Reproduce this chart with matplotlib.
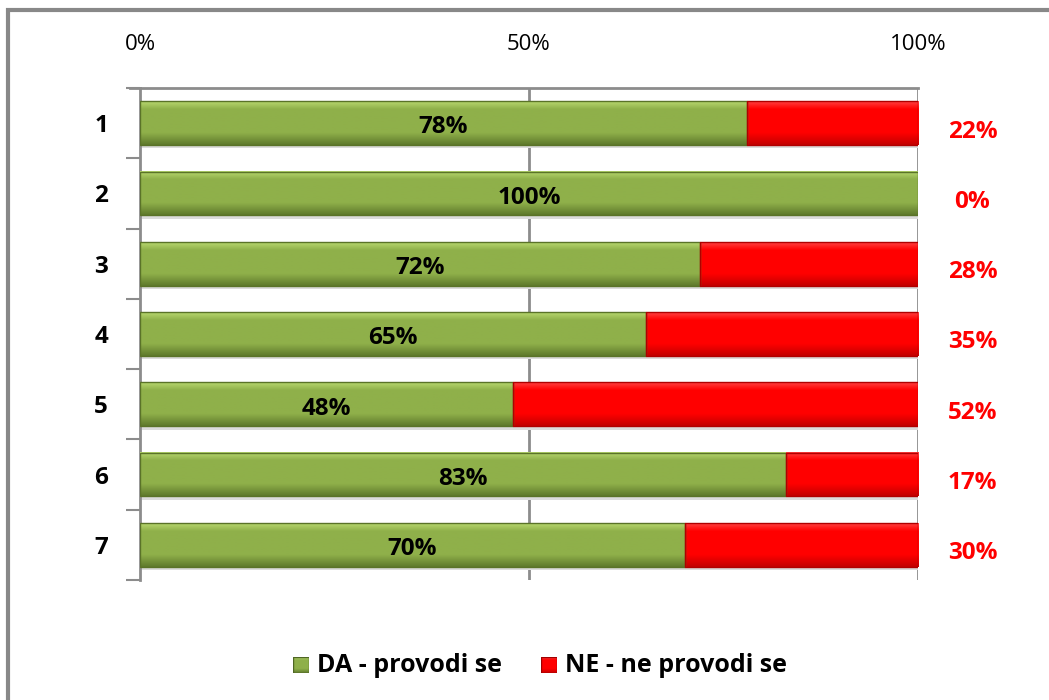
import matplotlib

matplotlib.use("Agg")
import matplotlib.pyplot as plt
import numpy as np
from matplotlib.colors import to_rgb
from matplotlib.patches import Rectangle

plt.rcParams["font.family"] = ["Open Sans", "DejaVu Sans"]

categories = ["1", "2", "3", "4", "5", "6", "7"]
da_values = [78, 100, 72, 65, 48, 83, 70]
ne_values = [22, 0, 28, 35, 52, 17, 30]
value_ticks = [0, 50, 100]
series_names = ["DA - provodi se", "NE - ne provodi se"]

GREEN = "#8fb04a"
GREEN_LIGHT = "#b8d86e"
GREEN_DARK = "#5f7a2c"
RED = "#ff0000"
RED_LIGHT = "#ff4040"
RED_DARK = "#c40000"
GRID = "#8c8c8c"
BAR_H = 0.62


def _gradient(light, mid, dark, n=64):
    # vertical shading: light strip on top, flat middle, darker bottom
    t = np.linspace(0, 1, n)
    l, m, d = (np.array(to_rgb(c)) for c in (light, mid, dark))
    rows = []
    for v in t:
        if v < 0.18:
            c = l + (m - l) * (v / 0.18)
        elif v < 0.72:
            c = m
        else:
            c = m + (d - m) * ((v - 0.72) / 0.28)
        rows.append(c)
    return np.array(rows)[:, None, :]


def _shaded_bar(ax, x0, width, y, img, edge):
    if width <= 0:
        return
    # faint shadow under the bar
    ax.add_patch(Rectangle((x0 + 0.3, y - BAR_H / 2 - 0.05), width, 0.05,
                           facecolor="#dcdcdc", edgecolor="none", zorder=2))
    ax.imshow(img, extent=(x0, x0 + width, y - BAR_H / 2, y + BAR_H / 2),
              origin="upper", aspect="auto", zorder=3, interpolation="bilinear")
    ax.add_patch(Rectangle((x0, y - BAR_H / 2), width, BAR_H, facecolor="none",
                           edgecolor=edge, linewidth=1.0, zorder=4))


fig = plt.figure(figsize=(10.49, 7.0), dpi=100)
fig.patch.set_facecolor("white")
ax = fig.add_axes([140 / 1049, 1 - 580 / 700, 778 / 1049, 492 / 700])

n = len(categories)
ypos = [n - 1 - i for i in range(n)]
green_img = _gradient(GREEN_LIGHT, GREEN, GREEN_DARK)
red_img = _gradient(RED_LIGHT, RED, RED_DARK)

for y, da, ne in zip(ypos, da_values, ne_values):
    _shaded_bar(ax, 0, da, y, green_img, "#5a7328")
    _shaded_bar(ax, da, ne, y, red_img, "#b00000")
    ax.text(da / 2, y - 0.06, f"{da}%", ha="center", va="center", fontsize=17.5,
            fontweight="bold", color="black", zorder=5)
    ax.text(107, y - 0.12, f"{ne}%", ha="center", va="center", fontsize=17.5,
            fontweight="bold", color="#ff0000", zorder=5, clip_on=False)

ax.set_xlim(0, 100)
ax.set_ylim(-0.5, n - 0.5)

# value axis on top, gridlines at 50 and 100
ax.xaxis.tick_top()
ax.set_xticks(value_ticks)
ax.set_xticklabels([f"{v}%" for v in value_ticks], fontsize=16)
ax.tick_params(axis="x", length=0, pad=24)
for v in value_ticks[1:]:
    ax.axvline(v, color=GRID, linewidth=2, zorder=1)

# category axis: ticks between categories
ax.set_yticks(np.arange(-0.5, n, 1.0))
ax.set_yticklabels([])
ax.set_yticks(ypos, minor=True)
ax.set_yticklabels(categories, minor=True, fontsize=17.5, fontweight="bold")
ax.tick_params(axis="y", which="major", length=10, width=1.5, color=GRID)
ax.tick_params(axis="y", which="minor", length=0, pad=23)

for side in ("right", "bottom"):
    ax.spines[side].set_visible(False)
ax.spines["left"].set_color(GRID)
ax.spines["left"].set_linewidth(2)
ax.spines["top"].set_color(GRID)
ax.spines["top"].set_linewidth(2)
ax.plot([-1.3, 0], [n - 0.5, n - 0.5], color=GRID, linewidth=2, clip_on=False)

# legend with shaded square swatches
leg_y = 1 - 665 / 700
items = [(293 / 1049, green_img, "#4f6624"), (541 / 1049, red_img, "#a00000")]
sw = 16 / 1049
sh = 16 / 700
for (lx, img, edge), name in zip(items, series_names):
    sax = fig.add_axes([lx, leg_y - sh / 2, sw, sh])
    sax.imshow(img, aspect="auto", extent=(0, 1, 0, 1), origin="upper")
    sax.add_patch(Rectangle((0, 0), 1, 1, facecolor="none", edgecolor=edge, linewidth=1))
    sax.set_axis_off()
    fig.text(lx + sw + 8 / 1049, leg_y, name, ha="left", va="center",
             fontsize=18, fontweight="bold")

# chart frame (left and top edges visible)
fig.add_artist(Rectangle((8 / 1049, -0.05), 1.2, 1 - 10 / 700 + 0.05,
                         transform=fig.transFigure, facecolor="none",
                         edgecolor="#888888", linewidth=3))

fig.savefig("out.png", dpi=100, facecolor="white")
